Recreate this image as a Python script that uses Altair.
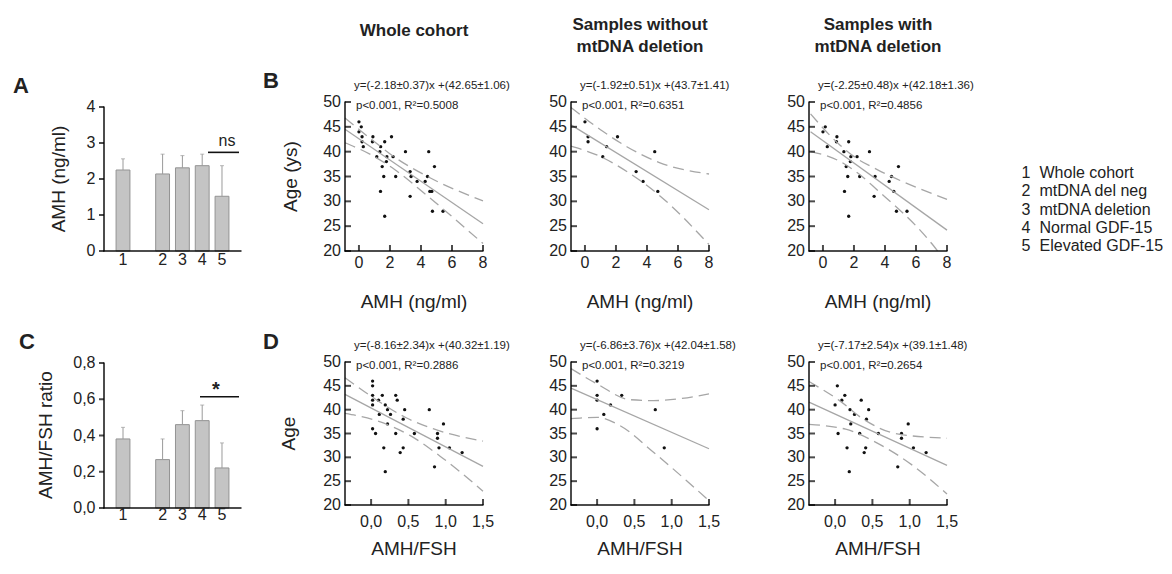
import altair as alt
import pandas as pd

FONT = "Liberation Sans"
TXT = "#222222"
GRAY = "#a6a6a6"
AX = "#000000"
M = 6  # inner margin of each cell on the left/bottom

# ---------------- data ----------------
bar_cats = ["1", "2", "3", "4", "5"]
bar_domain = ["1", " ", "2", "3", "4", "5"]
amh_mean = [2.25, 2.14, 2.31, 2.37, 1.52]
amh_err = [2.56, 2.69, 2.65, 2.69, 2.37]
ratio_mean = [0.381, 0.267, 0.46, 0.482, 0.221]
ratio_err = [0.445, 0.381, 0.537, 0.568, 0.359]

legend_nums = ["1", "2", "3", "4", "5"]
legend_labels = ["Whole cohort", "mtDNA del neg", "mtDNA deletion", "Normal GDF-15", "Elevated GDF-15"]

col_titles = ["Whole cohort", "Samples without\nmtDNA deletion", "Samples with\nmtDNA deletion"]

# B: Age vs AMH
b1_x = [0, 0.2, 0.2, 1.15, 1.4, 2.1, 3.3, 3.75, 4.5, 4.7, 0, 0.15, 0.28, 0.9, 0.87, 1.66, 1.35, 1.5,
        1.6, 1.39, 1.66, 1.8, 1.77, 2.2, 2.37, 3.0, 3.36, 3.3, 4.27, 4.42, 4.87, 4.57, 4.74, 5.42]
b1_y = [46, 43, 42, 39, 41, 43, 36, 34, 40, 32, 44, 45, 41, 43, 42, 42, 40, 37,
        35, 32, 27, 39, 38, 39, 35, 40, 35, 31, 34, 35, 37, 32, 28, 28]
b2_x = [0, 0.2, 0.2, 1.15, 1.4, 2.1, 3.3, 3.75, 4.5, 4.7]
b2_y = [46, 43, 42, 39, 41, 43, 36, 34, 40, 32]
b3_x = [0, 0.15, 0.28, 0.9, 0.87, 1.66, 1.35, 1.5, 1.6, 1.39, 1.66, 1.8, 1.77, 2.2, 2.37, 3.0,
        3.36, 3.3, 4.27, 4.42, 4.87, 4.57, 4.74, 5.42]
b3_y = [44, 45, 41, 43, 42, 42, 40, 37, 35, 32, 27, 39, 38, 39, 35, 40,
        35, 31, 34, 35, 37, 32, 28, 28]

b1_mid_x, b1_mid_y = [-0.9, 8], [44.5, 25.5]
b1_up_x, b1_up_y = [-0.9, 1.0, 2.3, 4.3, 8], [46.8, 42.0, 38.9, 35.2, 30.1]
b1_lo_x, b1_lo_y = [-0.9, 1.0, 2.3, 4.3, 8], [41.8, 39.0, 36.4, 31.4, 21.5]

b2_mid_x, b2_mid_y = [-0.9, 8], [45.4, 28.3]
b2_up_x, b2_up_y = [-0.9, 1.15, 2.7, 4.8, 8], [48.9, 44.1, 41.0, 37.8, 35.5]
b2_lo_x, b2_lo_y = [-0.9, 1.15, 2.7, 4.8, 8], [41.1, 38.8, 36.0, 31.2, 21.3]

b3_mid_x, b3_mid_y = [-0.8, 8], [44.0, 24.2]
b3_up_x, b3_up_y = [-0.8, 1.0, 2.2, 3.5, 8], [47.6, 41.6, 38.6, 36.4, 30.4]
b3_lo_x, b3_lo_y = [-0.8, 1.0, 2.2, 3.5, 6.8, 7.4], [40.0, 38.2, 35.8, 32.3, 22.3, 20.0]

# D: Age vs AMH/FSH
d1_x = [0.02, 0.02, 0.02, 0.02, 0.02, 0.02, 0.06, 0.1, 0.11, 0.15, 0.17, 0.19, 0.19, 0.22, 0.22, 0.26,
        0.33, 0.35, 0.33, 0.39, 0.43, 0.43, 0.45, 0.58, 0.78, 0.89, 0.89, 0.91, 0.97, 1.05, 0.85, 1.22]
d1_y = [46, 45, 43, 42, 41, 36, 35, 42, 39, 43, 32, 27, 41, 40, 37, 39,
        43, 42, 35, 31, 32, 38, 40, 35, 40, 35, 34, 32, 37, 32, 28, 31]
d2_x = [0, 0, 0, 0, 0.09, 0.18, 0.33, 0.78, 0.9]
d2_y = [46, 43, 42, 36, 39, 41, 43, 40, 32]
d3_x = [0.03, 0, 0.04, 0.09, 0.13, 0.16, 0.19, 0.2, 0.21, 0.26, 0.33, 0.35, 0.39, 0.41, 0.42, 0.45,
        0.58, 0.84, 0.89, 0.89, 0.98, 1.05, 1.22]
d3_y = [45, 41, 35, 42, 43, 32, 27, 40, 37, 39, 35, 42, 31, 32, 38, 40,
        35, 28, 35, 34, 37, 32, 31]

d1_mid_x, d1_mid_y = [-0.35, 1.5], [43.2, 28.1]
d1_up_x, d1_up_y = [-0.35, 0.03, 0.47, 0.83, 1.5], [46.7, 42.5, 38.3, 36.0, 33.4]
d1_lo_x, d1_lo_y = [-0.35, 0.07, 0.52, 0.92, 1.5], [39.2, 37.7, 34.6, 30.3, 22.9]

d2_mid_x, d2_mid_y = [-0.35, 1.5], [44.5, 31.8]
d2_up_x, d2_up_y = [-0.35, 0, 0.44, 0.76, 1.5], [48.6, 45.4, 42.1, 41.9, 43.3]
d2_lo_x, d2_lo_y = [-0.35, 0, 0.3, 0.76, 1.2, 1.5], [38.1, 38.4, 36.7, 31.0, 25.1, 20.9]

d3_mid_x, d3_mid_y = [-0.35, 1.5], [41.6, 28.3]
d3_up_x, d3_up_y = [-0.35, 0.05, 0.37, 0.81, 1.5], [45.9, 42.0, 38.1, 35.0, 34.0]
d3_lo_x, d3_lo_y = [-0.35, 0.14, 0.54, 1.04, 1.5], [36.9, 35.9, 33.2, 28.3, 22.3]

eqs_b = [("y=(-2.18\u00b10.37)x +(42.65\u00b11.06)", "p<0.001, R\u00b2=0.5008"),
         ("y=(-1.92\u00b10.51)x +(43.7\u00b11.41)", "p<0.001, R\u00b2=0.6351"),
         ("y=(-2.25\u00b10.48)x +(42.18\u00b11.36)", "p<0.001, R\u00b2=0.4856")]
eqs_d = [("y=(-8.16\u00b12.34)x +(40.32\u00b11.19)", "p<0.001, R\u00b2=0.2886"),
         ("y=(-6.86\u00b13.76)x +(42.04\u00b11.58)", "p<0.001, R\u00b2=0.3219"),
         ("y=(-7.17\u00b12.54)x +(39.1\u00b11.48)", "p<0.001, R\u00b2=0.2654")]

age_ticks = [20, 25, 30, 35, 40, 45, 50]
age_labels = ["20", "25", "30", "35", "40", "45", "50"]
amh_ticks = [0, 2, 4, 6, 8]
amh_labels = ["0", "2", "4", "6", "8"]
ratio_ticks = [0.0, 0.5, 1.0, 1.5]
ratio_labels = ["0,0", "0,5", "1,0", "1,5"]
amh_bar_ticks = [0, 1, 2, 3, 4]
amh_bar_labels = ["0", "1", "2", "3", "4"]
ratio_bar_ticks = [0.0, 0.2, 0.4, 0.6, 0.8]
ratio_bar_labels = ["0,0", "0,2", "0,4", "0,6", "0,8"]

W = 138
WB = 137


def text_layer(txt, x, y, size, weight="normal", align="left", baseline="middle", line_height=None, angle=None):
    kw = dict(align=align, baseline=baseline, fontSize=size, font=FONT, fontWeight=weight, color=TXT)
    if line_height is not None:
        kw["lineHeight"] = line_height
        kw["lineBreak"] = "\n"
    if angle is not None:
        kw["angle"] = angle
    return alt.Chart(pd.DataFrame({"t": [txt]})).mark_text(**kw).encode(
        x=alt.value(x + M), y=alt.value(y), text="t:N")


def scatter(px, py, mx, my, ux, uy, lx, ly, xdom, xticks, xlabels, xtitle, ytitle, eq, H,
            lab_dy, title_dy, ytitle_x, extras):
    xs = alt.Scale(domain=xdom, range=[M, M + W], nice=False, zero=False)
    ys = alt.Scale(domain=[20, 50], range=[H, 0], nice=False, zero=False)
    X = lambda f: alt.X(f, scale=xs, axis=None)
    Y = lambda f: alt.Y(f, scale=ys, axis=None)
    pts = alt.Chart(pd.DataFrame({"x": px, "y": py})).mark_circle(size=11, color="#111", opacity=1).encode(
        x=X("x:Q"), y=Y("y:Q"))
    band_df = pd.concat([pd.DataFrame({"x": ux, "y": uy, "g": "upper"}),
                         pd.DataFrame({"x": lx, "y": ly, "g": "lower"})])
    band = alt.Chart(band_df).mark_line(color=GRAY, strokeWidth=1.3, strokeDash=[11, 6],
                                        interpolate="monotone").encode(
        x=X("x:Q"), y=Y("y:Q"), detail="g:N")
    mid = alt.Chart(pd.DataFrame({"x": mx, "y": my})).mark_line(color=GRAY, strokeWidth=1.3).encode(
        x=X("x:Q"), y=Y("y:Q"))
    # axis base lines (long ticks anchored through the scales)
    ax_df = pd.DataFrame({"x0": [xdom[0]], "xc": [(xdom[0] + xdom[1]) / 2], "y0": [20], "yc": [35], "t": ["ax"]})
    yline = alt.Chart(ax_df).mark_tick(orient="vertical", size=H + 1, thickness=2, color=AX).encode(
        x=X("x0:Q"), y=Y("yc:Q"))
    xline = alt.Chart(ax_df).mark_tick(orient="horizontal", size=W + 1, thickness=2, color=AX).encode(
        x=X("xc:Q"), y=Y("y0:Q"))
    xt_df = pd.DataFrame({"x": xticks, "t": xlabels})
    yt_df = pd.DataFrame({"y": age_ticks, "t": age_labels})
    xt = alt.Chart(xt_df).mark_tick(orient="vertical", size=6, thickness=2, color=AX).encode(
        x=X("x:Q"), y=alt.value(H - 3))
    yt = alt.Chart(yt_df).mark_tick(orient="horizontal", size=6, thickness=2, color=AX).encode(
        y=Y("y:Q"), x=alt.value(M + 3))
    xlab = alt.Chart(xt_df).mark_text(fontSize=16, font=FONT, color=TXT, baseline="middle").encode(
        x=X("x:Q"), y=alt.value(H + lab_dy), text="t:N")
    ylab = alt.Chart(yt_df).mark_text(fontSize=16, font=FONT, color=TXT, align="right", baseline="middle").encode(
        y=Y("y:Q"), x=alt.value(M - 4), text="t:N")
    layers = [pts, band, mid, yline, xline, xt, yt, xlab, ylab,
              text_layer(xtitle, W / 2, H + title_dy, 19, align="center"),
              text_layer(eq[0], 9, -16, 11.5), text_layer(eq[1], 11, 3.5, 11.5)]
    if ytitle:
        layers.append(text_layer(ytitle, ytitle_x, H / 2, 19, align="center", angle=270))
    return alt.layer(*layers, *extras).properties(width=W + M, height=H + M)


def bars(means, errs, ydom, yticks, ylabels, rng, H, ytitle, ytitle_x, ytitle_y, xlab_dy,
         sig_y, sig_txt, sig_x1, sig_x2, sig_tx, sig_size, sig_dy, extras):
    df = pd.DataFrame({"c": bar_cats, "m": means, "e": errs})
    xs = alt.Scale(domain=bar_domain, range=[M, M + WB], paddingInner=0.3, paddingOuter=0.61)
    ys = alt.Scale(domain=ydom, range=rng, nice=False, zero=True)
    X = lambda f: alt.X(f, scale=xs, sort=bar_domain, axis=None)
    Y = lambda f: alt.Y(f, scale=ys, axis=None)
    b = alt.Chart(df).mark_bar(color="#c4c4c4", stroke="#939393", strokeWidth=1).encode(
        x=X("c:N"), y=Y("m:Q"))
    er = alt.Chart(df).mark_rule(color="#9a9a9a", strokeWidth=1).encode(
        x=X("c:N"), y=Y("m:Q"), y2="e:Q")
    cap = alt.Chart(df).mark_tick(color="#9a9a9a", size=4, thickness=1, orient="horizontal").encode(
        x=X("c:N"), y=Y("e:Q"))
    ax_df = pd.DataFrame({"m": [ydom[0]], "mc": [(ydom[0] + ydom[1]) / 2], "t": ["ax"]})
    yline = alt.Chart(ax_df).mark_tick(orient="vertical", size=rng[0] - rng[1] + 1, thickness=2, color=AX).encode(
        x=alt.value(M), y=Y("mc:Q"))
    xline = alt.Chart(ax_df).mark_tick(orient="horizontal", size=WB + 1, thickness=2, color=AX).encode(
        x=alt.value(M + WB / 2), y=Y("m:Q"))
    xlab = alt.Chart(df).mark_text(fontSize=16, font=FONT, color=TXT, baseline="middle").encode(
        x=X("c:N"), y=alt.value(H + xlab_dy), text="c:N")
    yt_df = pd.DataFrame({"m": yticks, "t": ylabels})
    ytk = alt.Chart(yt_df).mark_tick(orient="horizontal", size=5, thickness=2, color=AX).encode(
        y=Y("m:Q"), x=alt.value(M - 2.5))
    ylab = alt.Chart(yt_df).mark_text(fontSize=16, font=FONT, color=TXT, align="right", baseline="middle").encode(
        y=Y("m:Q"), x=alt.value(M - 8.5), text="t:N")
    sdf = pd.DataFrame({"m": [sig_y], "t": [sig_txt]})
    sl = alt.Chart(sdf).mark_rule(color="#111", strokeWidth=1.6).encode(
        x=alt.value(sig_x1 + M), x2=alt.value(sig_x2 + M), y=Y("m:Q"))
    st = alt.Chart(sdf).mark_text(baseline="bottom", dy=sig_dy, fontSize=sig_size, font=FONT, color=TXT,
                                  fontWeight="bold" if sig_txt == "*" else "normal").encode(
        x=alt.value(sig_tx + M), y=Y("m:Q"), text="t:N")
    layers = [b, er, cap, yline, xline, ytk, xlab, ylab, sl, st,
              text_layer(ytitle, ytitle_x, ytitle_y, 19, align="center", angle=270)]
    return alt.layer(*layers, *extras).properties(width=WB + M, height=H + M)


def spacer(w, h):
    return alt.Chart(pd.DataFrame({"v": [0]})).mark_point(opacity=0).encode(
        x=alt.value(0), y=alt.value(0)).properties(width=w, height=h)


HB, HD = 149, 143

A = bars(amh_mean, amh_err, [0, 4], amh_bar_ticks, amh_bar_labels, [149, 5], HB, "AMH (ng/ml)", -45, 77, 9,
         2.74, "ns", 104, 135, 123, 16, -3,
         [text_layer("A", -91, -16, 22, "bold")])
C = bars(ratio_mean, ratio_err, [0, 0.8], ratio_bar_ticks, ratio_bar_labels, [146, 1], 146, "AMH/FSH ratio",
         -58, 73, 7, 0.614, "*", 96, 135, 112, 20, 3,
         [text_layer("C", -85, -20, 22, "bold")])

B1 = scatter(b1_x, b1_y, b1_mid_x, b1_mid_y, b1_up_x, b1_up_y, b1_lo_x, b1_lo_y, [-0.9, 8], amh_ticks, amh_labels,
             "AMH (ng/ml)", "Age (ys)", eqs_b[0], HB, 12, 51, -54,
             [text_layer("B", -82, -21, 22, "bold"),
              text_layer(col_titles[0], W / 2, -66.5, 17, "bold", "center", "alphabetic")])
B2 = scatter(b2_x, b2_y, b2_mid_x, b2_mid_y, b2_up_x, b2_up_y, b2_lo_x, b2_lo_y, [-0.9, 8], amh_ticks, amh_labels,
             "AMH (ng/ml)", None, eqs_b[1], HB, 12, 51, -54,
             [text_layer(col_titles[1], W / 2, -72.5, 17, "bold", "center", "alphabetic", 22)])
B3 = scatter(b3_x, b3_y, b3_mid_x, b3_mid_y, b3_up_x, b3_up_y, b3_lo_x, b3_lo_y, [-0.9, 8], amh_ticks, amh_labels,
             "AMH (ng/ml)", None, eqs_b[2], HB, 12, 51, -54,
             [text_layer(col_titles[2], W / 2, -72.5, 17, "bold", "center", "alphabetic", 22)])

D1 = scatter(d1_x, d1_y, d1_mid_x, d1_mid_y, d1_up_x, d1_up_y, d1_lo_x, d1_lo_y, [-0.35, 1.5], ratio_ticks,
             ratio_labels, "AMH/FSH", "Age", eqs_d[0], HD, 17, 44, -56,
             [text_layer("D", -82, -20, 22, "bold")])
D2 = scatter(d2_x, d2_y, d2_mid_x, d2_mid_y, d2_up_x, d2_up_y, d2_lo_x, d2_lo_y, [-0.35, 1.5], ratio_ticks,
             ratio_labels, "AMH/FSH", None, eqs_d[1], HD, 17, 44, -56, [])
D3 = scatter(d3_x, d3_y, d3_mid_x, d3_mid_y, d3_up_x, d3_up_y, d3_lo_x, d3_lo_y, [-0.35, 1.5], ratio_ticks,
             ratio_labels, "AMH/FSH", None, eqs_d[2], HD, 17, 44, -56, [])

leg_df = pd.DataFrame({"n": legend_nums, "l": legend_labels})
leg_base = alt.Chart(leg_df).encode(y=alt.Y("n:O", axis=None, scale=alt.Scale(range=[71, 144], padding=0)))
leg = alt.layer(
    leg_base.mark_text(align="left", fontSize=16, font=FONT, color=TXT).encode(x=alt.value(37), text="n:N"),
    leg_base.mark_text(align="left", fontSize=16, font=FONT, color=TXT).encode(x=alt.value(55), text="l:N"),
).properties(width=145, height=HB)

chart = alt.concat(
    A, spacer(23, HB), B1, spacer(7, HB), B2, spacer(19, HB), B3, leg,
    C, spacer(23, HD), D1, spacer(7, HD), D2, spacer(19, HD), D3, spacer(145, HD),
    columns=8, spacing={"row": 105, "column": 37.5}, bounds="flush",
).properties(
    padding={"left": 12, "top": 15, "right": 0, "bottom": 0}
).configure(font=FONT).configure_view(stroke="transparent")

chart.save("out.html", embed_options={"renderer": "svg", "actions": False})
